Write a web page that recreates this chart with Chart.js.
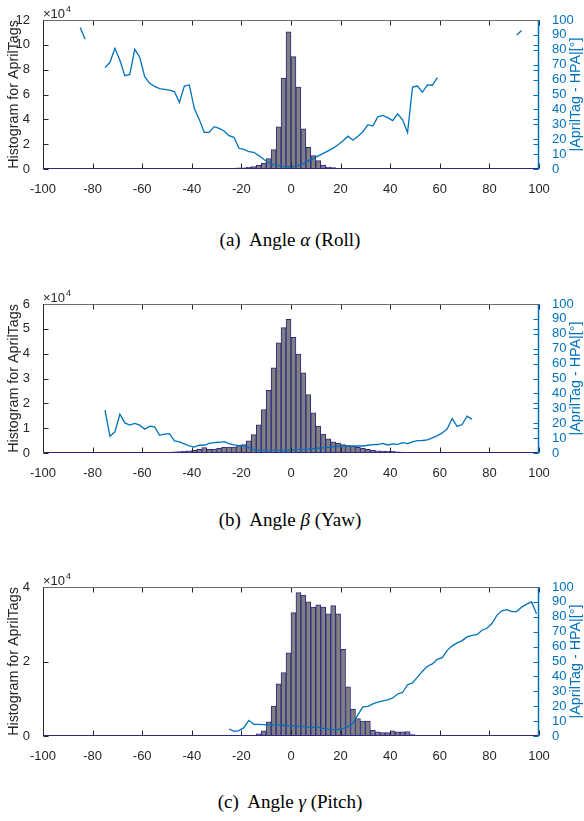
<!DOCTYPE html>
<html>
<head>
<meta charset="utf-8">
<script src="https://cdn.jsdelivr.net/npm/chart.js@4"></script>
<style>
  body { margin: 0; background: #fff; width: 584px; height: 821px; position: relative; overflow: hidden; }
  canvas { position: absolute; left: 0; }
  .cap { position: absolute; left: 0; width: 580px; text-align: center; line-height: 20px;
         font-family: 'Liberation Serif', 'Times New Roman', serif; font-size: 19px; color: #000; }
</style>
</head>
<body>
<canvas id="roll" width="584" height="200" style="top:0px"></canvas>
<div class="cap" style="top:230px">(a)&nbsp; Angle <i>α</i> (Roll)</div>
<canvas id="yaw" width="584" height="200" style="top:284px"></canvas>
<div class="cap" style="top:510px">(b)&nbsp; Angle <i>β</i> (Yaw)</div>
<canvas id="pitch" width="584" height="200" style="top:567px"></canvas>
<div class="cap" style="top:792px">(c)&nbsp; Angle <i>γ</i> (Pitch)</div>

<script>
// histogram bin centres (deg), bins are 2 deg wide
const binCenters = [
  -99, -97, -95, -93, -91, -89, -87, -85, -83, -81,
  -79, -77, -75, -73, -71, -69, -67, -65, -63, -61,
  -59, -57, -55, -53, -51, -49, -47, -45, -43, -41,
  -39, -37, -35, -33, -31, -29, -27, -25, -23, -21,
  -19, -17, -15, -13, -11, -9, -7, -5, -3, -1,
  1, 3, 5, 7, 9, 11, 13, 15, 17, 19,
  21, 23, 25, 27, 29, 31, 33, 35, 37, 39,
  41, 43, 45, 47, 49, 51, 53, 55, 57, 59,
  61, 63, 65, 67, 69, 71, 73, 75, 77, 79,
  81, 83, 85, 87, 89, 91, 93, 95, 97, 99
];

// counts in units of 1e4
const rollCounts = [
  0, 0, 0, 0, 0, 0, 0, 0, 0, 0,
  0, 0, 0, 0, 0, 0, 0, 0, 0, 0,
  0, 0, 0, 0, 0, 0, 0, 0, 0, 0.01,
  0.02, 0.03, 0.04, 0.05, 0.05, 0.05, 0.05, 0.06, 0.06, 0.1,
  0.1, 0.14, 0.2, 0.3, 0.48, 0.83, 1.56, 3.4, 7.32, 11.05,
  9.05, 6.6, 3.24, 1.75, 1.08, 0.67, 0.32, 0.16, 0.11, 0.05,
  0.04, 0.03, 0.02, 0.01, 0, 0, 0, 0, 0, 0,
  0, 0, 0, 0, 0, 0, 0, 0, 0, 0,
  0, 0, 0, 0, 0, 0, 0, 0, 0, 0,
  0, 0, 0, 0, 0, 0, 0, 0, 0, 0
];
const rollError = [
  null, null, null, null, null, null, null, 95, 87, null,
  null, null, 68, 71.6, 81, 73, 62.6, 63.5, 80.3, 75,
  62, 57.5, 55.5, 54, 53.5, 53, 52, 44.7, 55.7, 56.4,
  40.7, 33.3, 24.6, 24.6, 28.4, 27.3, 25.5, 22.4, 21.3, 13.9,
  13.2, 11.6, 11.2, 9, 6.5, 4.2, 2.9, 2.2, 1.6, 1.5,
  1.7, 2.4, 3.6, 5.3, 7, 8.8, 10.5, 12.2, 14, 16.3,
  19, 22, 19.3, 22, 25, 29.7, 28.8, 35, 36, 34.5,
  32.5, 37, 33, 24.5, 55, 55.7, 51.5, 56.4, 56.2, 61.3,
  null, null, null, null, null, null, null, null, null, null,
  null, null, null, null, null, 89.9, 93, null, null, null
];

const yawCounts = [
  0, 0, 0, 0, 0, 0, 0, 0, 0, 0,
  0, 0, 0, 0, 0, 0, 0, 0, 0, 0,
  0.01, 0.02, 0.02, 0.03, 0.03, 0.04, 0.05, 0.06, 0.07, 0.09,
  0.11, 0.15, 0.22, 0.15, 0.16, 0.19, 0.23, 0.24, 0.24, 0.3,
  0.34, 0.49, 0.74, 1.13, 1.75, 2.52, 3.43, 4.44, 5.05, 5.38,
  4.66, 3.98, 3.23, 2.35, 1.62, 1.08, 0.76, 0.57, 0.45, 0.39,
  0.34, 0.3, 0.27, 0.23, 0.19, 0.15, 0.11, 0.09, 0.08, 0.08,
  0.07, 0.05, 0.04, 0.03, 0.02, 0.02, 0.02, 0.02, 0.01, 0.01,
  0.01, 0.01, 0.01, 0, 0, 0, 0, 0, 0, 0,
  0, 0, 0, 0, 0, 0, 0, 0, 0, 0
];
const yawError = [
  null, null, null, null, null, null, null, null, null, null,
  null, null, 28.8, 11.2, 14.2, 26, 20.2, 18.7, 19.8, 18.7,
  16, 18, 17.5, 11.9, 12.6, 13, 8.1, 7.4, 6.1, 4.7,
  4, 5.2, 5.2, 6.5, 7, 7.2, 7.6, 6.3, 5.4, 4.9,
  4.9, 3.6, 2.2, 1.8, 1.7, 1.7, 1.7, 1.8, 1.8, 1.9,
  2, 2.2, 2.4, 2.6, 2.9, 3.2, 3.5, 3.8, 4.1, 4.4,
  4.6, 4.7, 4.8, 4.7, 4.7, 5.2, 5.6, 5.7, 6.5, 5.4,
  6.1, 5.8, 7, 6.3, 7.4, 8.3, 8.4, 8.8, 10.1, 11.7,
  13.5, 16.2, 23.1, 17.8, 19.1, 24.7, 22.7, null, null, null,
  null, null, null, null, null, null, null, null, null, null
];

const pitchCounts = [
  0, 0, 0, 0, 0, 0, 0, 0, 0, 0,
  0, 0, 0, 0, 0, 0, 0, 0, 0, 0,
  0, 0, 0, 0, 0, 0, 0, 0, 0, 0,
  0, 0, 0, 0, 0, 0, 0, 0, 0, 0,
  0, 0.01, 0.02, 0.06, 0.14, 0.38, 0.8, 1.4, 1.7, 2.23,
  3.31, 3.85, 3.78, 3.6, 3.46, 3.52, 3.46, 3.28, 3.5, 3.28,
  2.33, 1.32, 0.72, 0.47, 0.4, 0.4, 0.15, 0.11, 0.09, 0.09,
  0.14, 0.11, 0.11, 0.12, 0.04, 0.02, 0.02, 0.02, 0.01, 0.01,
  0.01, 0.01, 0.01, 0.01, 0, 0, 0, 0, 0, 0,
  0, 0, 0, 0, 0, 0, 0, 0, 0, 0
];
const pitchError = [
  null, null, null, null, null, null, null, null, null, null,
  null, null, null, null, null, null, null, null, null, null,
  null, null, null, null, null, null, null, null, null, null,
  null, null, null, null, null, null, null, 4.7, 3.1, 3.6,
  5.6, 10.5, 7.8, 7.8, 7.6, 7.4, 7.4, 7.4, 7.2, 6.9,
  6.7, 6.5, 6.3, 6, 6, 5.8, 5.1, 4.5, 4.3, 4.5,
  5.1, 6.3, 8.7, 14.3, 19.5, 19.9, 21.5, 22.8, 23.6, 24.2,
  25.5, 28.2, 29.2, 34.4, 35.6, 39.5, 43.5, 46.8, 48.4, 51.5,
  52.6, 57.5, 60.5, 62.5, 64, 66.5, 67.5, 68, 71, 72.3,
  75.5, 81, 84, 84.8, 83.5, 83.5, 86.5, 88.5, 90, 82
];

// tick labels
const angleTicks = [-100, -80, -60, -40, -20, 0, 20, 40, 60, 80, 100];
const rollCountTicks = [0, 2, 4, 6, 8, 10, 12];
const yawCountTicks = [0, 1, 2, 3, 4, 5, 6];
const pitchCountTicks = [0, 2, 4];
const errorTicks = [0, 10, 20, 30, 40, 50, 60, 70, 80, 90, 100];

const AXIS_GREY = '#262626';
const MATLAB_BLUE = '#0072BD';
const BAR_EDGE = '#2e2884';
const FONT = "'Liberation Sans', Arial, sans-serif";

// box, inward ticks, exponent and axis titles, MATLAB style
const matlabBox = {
  id: 'matlabBox',
  afterDatasetsDraw(chart) {
    const { ctx, chartArea: a, scales } = chart;
    const L = Math.round(a.left) + 0.5, R = Math.round(a.right) - 0.5;
    const T = Math.round(a.top) + 0.5, B = Math.round(a.bottom) - 0.5;
    const tl = 5;
    ctx.save();
    ctx.lineWidth = 1;
    const seg = (x1, y1, x2, y2, c) => {
      ctx.strokeStyle = c;
      ctx.beginPath(); ctx.moveTo(x1, y1); ctx.lineTo(x2, y2); ctx.stroke();
    };
    // x ticks top and bottom
    scales.x.ticks.forEach(t => {
      const px = Math.round(scales.x.getPixelForValue(t.value)) + 0.5;
      seg(px, T, px, T + tl, AXIS_GREY);
      seg(px, B, px, B - tl, AXIS_GREY);
    });
    // left ticks (also echoed on the right side)
    scales.y.ticks.forEach(t => {
      const py = Math.round(scales.y.getPixelForValue(t.value)) + 0.5;
      seg(L, py, L + tl, py, AXIS_GREY);
      seg(R, py, R - tl, py, MATLAB_BLUE);
    });
    // right ticks
    scales.y2.ticks.forEach(t => {
      const py = Math.round(scales.y2.getPixelForValue(t.value)) + 0.5;
      seg(R, py, R - tl, py, MATLAB_BLUE);
    });
    seg(L, T, R, T, '#6e6e6e');
    seg(L, T, L, B + 0.5, AXIS_GREY);
    seg(L, B, R, B, BAR_EDGE);
    ctx.lineWidth = 1.5;
    seg(R, T - 0.5, R, B + 0.5, MATLAB_BLUE);

    // exponent label
    ctx.fillStyle = AXIS_GREY;
    ctx.textBaseline = 'alphabetic';
    ctx.textAlign = 'left';
    ctx.font = '13px ' + FONT;
    ctx.fillText('\u00d710', a.left, a.top - 2);
    const w = ctx.measureText('\u00d710').width;
    ctx.font = '9px ' + FONT;
    ctx.fillText('4', a.left + w + 1, a.top - 8);

    // axis titles
    const midY = (a.top + a.bottom) / 2;
    ctx.font = '14.3px ' + FONT;
    ctx.textAlign = 'center';
    ctx.textBaseline = 'middle';
    ctx.save();
    ctx.translate(14.5, midY);
    ctx.rotate(-Math.PI / 2);
    ctx.fillStyle = AXIS_GREY;
    ctx.fillText('Histogram for AprilTags', 0, 0);
    ctx.restore();
    ctx.save();
    ctx.translate(576, midY);
    ctx.rotate(-Math.PI / 2);
    ctx.fillStyle = MATLAB_BLUE;
    ctx.fillText('|AprilTag - HPA|[\u00b0]', 0, 0);
    ctx.restore();
    ctx.restore();
  }
};

function fixedTicks(values) {
  return scale => { scale.ticks = values.map(v => ({ value: v })); };
}

function drawPanel(canvasId, counts, errors, countTicks) {
  const ctx = document.getElementById(canvasId).getContext('2d');
  return new Chart(ctx, {
    type: 'bar',
    data: {
      datasets: [{
        type: 'line',
        data: binCenters.map((c, i) => ({ x: c, y: errors[i] })),
        yAxisID: 'y2',
        borderColor: MATLAB_BLUE,
        borderWidth: 1.3,
        pointRadius: 0,
        spanGaps: false,
        tension: 0,
        order: 0
      }, {
        type: 'bar',
        data: binCenters.map((c, i) => ({ x: c, y: counts[i] })),
        yAxisID: 'y',
        backgroundColor: '#808080',
        borderColor: BAR_EDGE,
        borderWidth: 1,
        borderSkipped: false,
        barPercentage: 1,
        categoryPercentage: 1,
        order: 1
      }]
    },
    options: {
      responsive: false,
      animation: false,
      layout: { padding: { top: 20, left: 0, right: 0, bottom: 0 } },
      plugins: { legend: { display: false }, tooltip: { enabled: false } },
      scales: {
        x: {
          type: 'linear',
          min: -100, max: 100,
          offset: false,
          afterBuildTicks: fixedTicks(angleTicks),
          afterFit: s => { s.height = 31; },
          grid: { display: false },
          border: { display: false },
          ticks: { color: AXIS_GREY, font: { family: FONT, size: 13 }, padding: 5, maxRotation: 0, autoSkip: false }
        },
        y: {
          position: 'left',
          min: countTicks[0], max: countTicks[countTicks.length - 1],
          afterBuildTicks: fixedTicks(countTicks),
          afterFit: s => { s.width = 43; },
          grid: { display: false },
          border: { display: false },
          ticks: { color: AXIS_GREY, font: { family: FONT, size: 13 }, padding: 5, autoSkip: false }
        },
        y2: {
          position: 'right',
          min: 0, max: 100,
          afterBuildTicks: fixedTicks(errorTicks),
          afterFit: s => { s.width = 45; },
          grid: { display: false },
          border: { display: false },
          ticks: { color: MATLAB_BLUE, font: { family: FONT, size: 13 }, padding: 5, autoSkip: false }
        }
      }
    },
    plugins: [matlabBox]
  });
}

drawPanel('roll', rollCounts, rollError, rollCountTicks);
drawPanel('yaw', yawCounts, yawError, yawCountTicks);
drawPanel('pitch', pitchCounts, pitchError, pitchCountTicks);
</script>
</body>
</html>
